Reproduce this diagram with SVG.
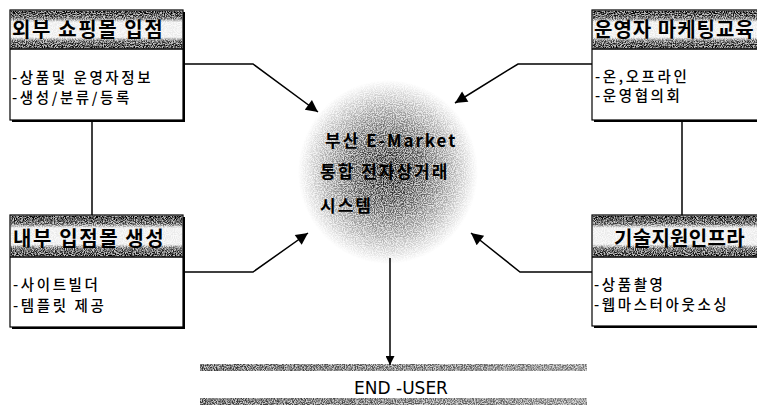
<svg xmlns="http://www.w3.org/2000/svg" width="757" height="407" viewBox="0 0 757 407">
<defs>
<filter id="grain" x="0" y="0" width="1" height="1" color-interpolation-filters="sRGB">
<feTurbulence type="fractalNoise" baseFrequency="0.9" numOctaves="2" seed="7" result="t"/>
<feColorMatrix in="t" type="matrix" values="0 0 0 0 0  0 0 0 0 0  0 0 0 0 0  0 0 0 1 0" result="na"/>
<feComponentTransfer in="na" result="nb"><feFuncA type="linear" slope="3" intercept="-1"/></feComponentTransfer>
<feComposite in="SourceGraphic" in2="nb" operator="arithmetic" k1="1.2" k2="0.4" k3="0" k4="0"/>
</filter>
<linearGradient id="hdr" x1="0" y1="0" x2="0" y2="1">
<stop offset="0" stop-color="#000" stop-opacity="0.7"/>
<stop offset="0.2" stop-color="#000" stop-opacity="0.5"/>
<stop offset="0.3" stop-color="#000" stop-opacity="0.05"/>
<stop offset="0.7" stop-color="#000" stop-opacity="0.05"/>
<stop offset="0.8" stop-color="#000" stop-opacity="0.5"/>
<stop offset="1" stop-color="#000" stop-opacity="0.65"/>
</linearGradient>
<radialGradient id="sph" cx="0.5" cy="0.5" r="0.5">
<stop offset="0" stop-color="#000" stop-opacity="0.6"/>
<stop offset="0.4" stop-color="#000" stop-opacity="0.42"/>
<stop offset="0.75" stop-color="#000" stop-opacity="0.18"/>
<stop offset="1" stop-color="#000" stop-opacity="0"/>
</radialGradient>
<linearGradient id="band" x1="0" y1="0" x2="1" y2="0">
<stop offset="0" stop-color="#000" stop-opacity="0.5"/>
<stop offset="1" stop-color="#000" stop-opacity="0.35"/>
</linearGradient>
<marker id="ah" viewBox="0 0 10 10" refX="10" refY="5" markerWidth="11" markerHeight="9" markerUnits="userSpaceOnUse" orient="auto">
<path d="M0,0 L10,5 L0,10 z" fill="#000"/>
</marker>
<marker id="ahl" viewBox="0 0 10 10" refX="10" refY="5" markerWidth="16" markerHeight="12" markerUnits="userSpaceOnUse" orient="auto">
<path d="M0,0 L10,5 L0,10 z" fill="#000"/>
</marker>
</defs>
<style>
.shadow{fill:#000}
.box{fill:#fff;stroke:#000;stroke-width:1.2}
.hd{fill:url(#hdr);filter:url(#grain)}
.sep{stroke:#000;stroke-width:1.5}
.ht{font-family:"Noto Sans CJK KR","Noto Sans",sans-serif;font-weight:bold;font-size:20px;fill:#000;letter-spacing:1.6px}
.bt{font-family:"Noto Sans CJK KR","Noto Sans",sans-serif;font-weight:500;font-size:14.5px;fill:#000;letter-spacing:2.6px}
.ct{font-family:"Noto Sans CJK KR","Noto Sans",sans-serif;font-weight:bold;font-size:17px;fill:#000;letter-spacing:2px}
.con{fill:none;stroke:#000;stroke-width:1.5}
.eu{font-family:"DejaVu Sans",sans-serif;font-size:17px;fill:#000}
</style>
<rect width="757" height="407" fill="#fff"/>

<g id="center">
<ellipse cx="388" cy="172" rx="90" ry="92" fill="url(#sph)" filter="url(#grain)"/>
<text class="ct" x="325" y="147">부산 E-Market</text>
<text class="ct" x="320" y="178">통합 전자상거래</text>
<text class="ct" x="320" y="212">시스템</text>
</g>

<g id="connectors">
<line class="con" x1="92" y1="120" x2="92" y2="215"/>
<line class="con" x1="682" y1="120" x2="682" y2="215"/>
<polyline class="con" points="183,64 253,64 318,112" marker-end="url(#ahl)"/>
<polyline class="con" points="592,64 518,64 455,103" marker-end="url(#ahl)"/>
<polyline class="con" points="183,272 253,272 308,233" marker-end="url(#ahl)"/>
<polyline class="con" points="592,272 520,272 471,233" marker-end="url(#ahl)"/>
<line class="con" x1="390" y1="258" x2="390" y2="365" marker-end="url(#ah)"/>
</g>

<g id="n-outer-mall">
<rect class="shadow" x="12" y="12" width="173" height="110"/>
<rect class="box" x="10" y="10" width="173" height="110"/>
<rect class="hd" x="10.6" y="10.6" width="171.8" height="38"/>
<line class="sep" x1="10" y1="49" x2="183" y2="49"/>
<text class="ht" x="12" y="37">외부 쇼핑몰 입점</text>
<text class="bt" x="12" y="83">-상품및 운영자정보</text>
<text class="bt" x="12" y="103">-생성/분류/등록</text>
</g>

<g id="n-inner-mall">
<rect class="shadow" x="12" y="217" width="173" height="112"/>
<rect class="box" x="10" y="215" width="173" height="112"/>
<rect class="hd" x="10.6" y="215.6" width="171.8" height="41"/>
<line class="sep" x1="10" y1="257" x2="183" y2="257"/>
<text class="ht" x="13" y="246">내부 입점몰 생성</text>
<text class="bt" x="13" y="290">-사이트빌더</text>
<text class="bt" x="13" y="311">-템플릿 제공</text>
</g>

<g id="n-marketing">
<rect class="shadow" x="594" y="12" width="180" height="110"/>
<rect class="box" x="592" y="10" width="180" height="110"/>
<rect class="hd" x="592.6" y="10.6" width="178" height="38"/>
<line class="sep" x1="592" y1="49" x2="772" y2="49"/>
<text class="ht" x="594" y="37" style="letter-spacing:1px">운영자 마케팅교육</text>
<text class="bt" x="595" y="82">-온,오프라인</text>
<text class="bt" x="595" y="101">-운영협의회</text>
</g>

<g id="n-infra">
<rect class="shadow" x="594" y="217" width="180" height="111"/>
<rect class="box" x="592" y="215" width="180" height="111"/>
<rect class="hd" x="592.6" y="215.6" width="178" height="41"/>
<line class="sep" x1="592" y1="257" x2="772" y2="257"/>
<text class="ht" x="614" y="246" style="letter-spacing:0.3px">기술지원인프라</text>
<text class="bt" x="594" y="290">-상품촬영</text>
<text class="bt" x="594" y="310">-웹마스터아웃소싱</text>
</g>

<g id="n-end-user">
<rect x="200" y="364" width="387" height="7" fill="url(#band)" filter="url(#grain)"/>
<rect x="200" y="398" width="387" height="7" fill="url(#band)" filter="url(#grain)"/>
<text class="eu" x="401" y="394" text-anchor="middle">END -USER</text>
</g>
</svg>
